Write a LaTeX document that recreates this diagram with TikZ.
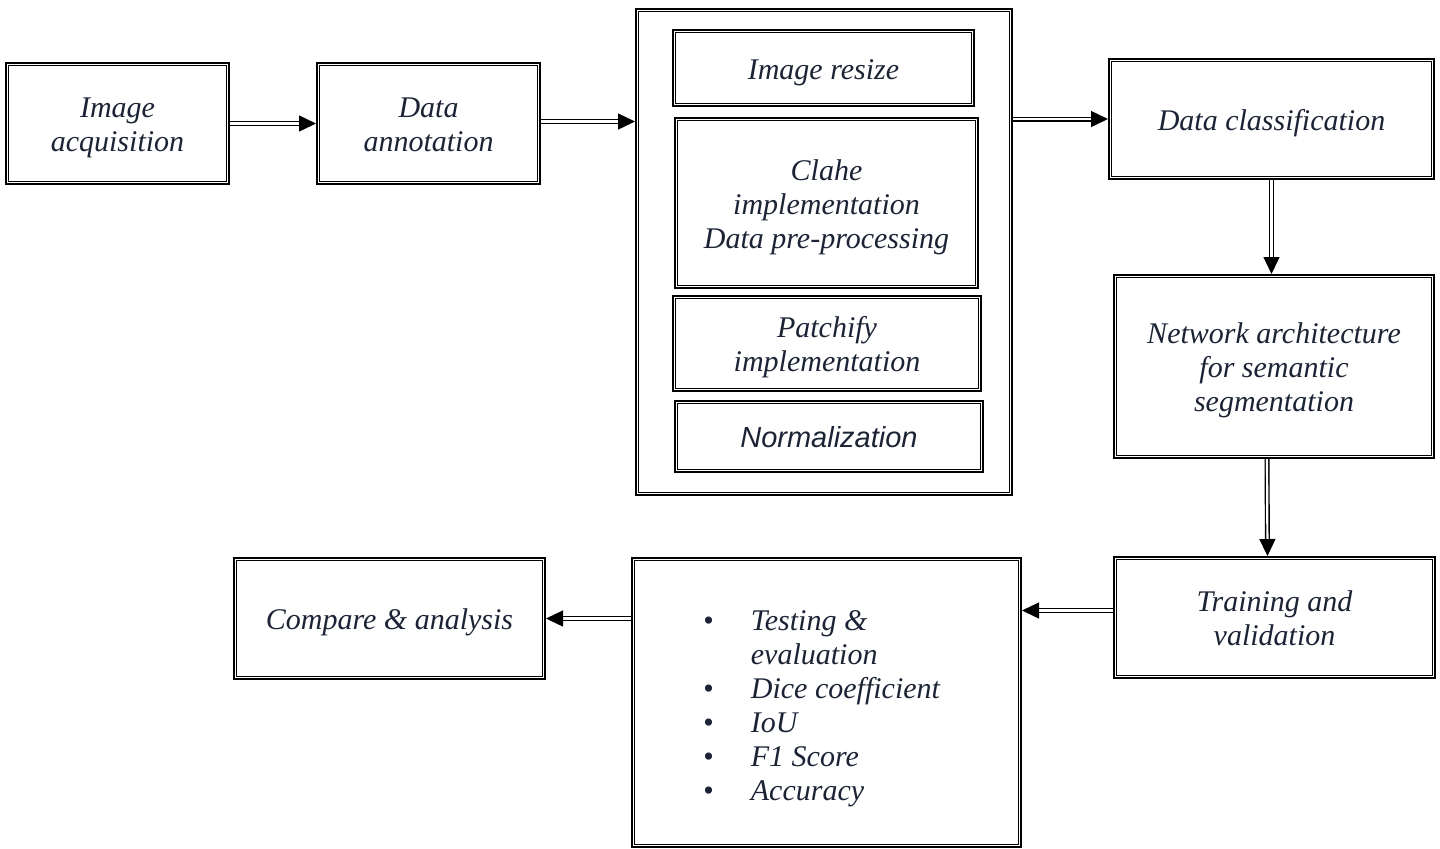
\documentclass[tikz,border=0pt]{standalone}
\usepackage{fontspec}
\setmainfont{Liberation Serif}
\newfontfamily\arialfont{Liberation Sans}
\usetikzlibrary{arrows.meta,calc}
\definecolor{txt}{HTML}{1B2335}
\tikzset{
  box/.style={draw, line width=1pt, inner sep=0pt,
    font=\fontsize{15}{17}\selectfont\itshape, text=txt},
  innerline/.style={draw, line width=0.5pt},
  conn/.style={double, double distance=1.1pt, line width=0.7pt,
    -{Triangle[length=8.5pt,width=8pt]}}
}
\newcommand{\dbox}[6]{%
  \pgfmathsetmacro{\bw}{(#4-#2)*0.5}%
  \pgfmathsetmacro{\bh}{(#5-#3)*0.5}%
  \pgfmathsetmacro{\bx}{(#2+#4)/2}%
  \pgfmathsetmacro{\by}{(#3+#5)/2}%
  \node[box, minimum width=\bw pt, minimum height=\bh pt] (#1) at (\bx,\by)
    {\raisebox{-2.2pt}[\height][\depth]{\begin{tabular}{@{}c@{}}#6\end{tabular}}};
  \draw[innerline] ($(#1.north west)+(3.5,3.5)$) rectangle ($(#1.south east)+(-3.5,-3.5)$);}
\begin{document}
\begin{tikzpicture}[x=0.5pt, y=-0.5pt]
\useasboundingbox (0,0) rectangle (1440,848);
% top row
\dbox{acq}{6}{63}{229}{184}{Image\\acquisition}
\dbox{ann}{317}{63}{540}{184}{Data\\annotation}
\dbox{pre}{636}{9}{1012}{495}{}
\dbox{res}{673}{30}{974}{106}{Image resize}
\dbox{clahe}{675}{118}{978}{288}{Clahe\\implementation\\Data pre-processing}
\dbox{patch}{673}{296}{981}{391}{Patchify\\implementation}
\dbox{norm}{675}{401}{983}{472}{{\arialfont\fontsize{14.5}{17}\selectfont\itshape Normalization}}
\dbox{cls}{1109}{59}{1434}{179}{Data classification}
\dbox{net}{1114}{275}{1434}{458}{Network architecture\\for semantic\\segmentation}
\dbox{train}{1114}{557}{1435}{678}{Training and\\validation}
\dbox{test}{632}{558}{1021}{847}{}
\dbox{cmp}{234}{558}{545}{679}{Compare \& analysis}
\node[anchor=west, inner sep=0pt, text=txt, font=\fontsize{15}{17}\selectfont\itshape] (list) at (703,709)
  {\begin{tabular}{@{}l@{\hspace{18.5pt}}l@{}}
   {\upshape\textbullet} & Testing \&\\
    & evaluation\\
   {\upshape\textbullet} & Dice coefficient\\
   {\upshape\textbullet} & IoU\\
   {\upshape\textbullet} & F1 Score\\
   {\upshape\textbullet} & Accuracy
   \end{tabular}};
% connectors
\draw[conn] (acq.east) -- (ann.west);
\draw[conn] ($(ann.east)+(0,-2)$) -- ($(ann.east -| pre.west)+(0,-2)$);
\draw[conn] (pre.east |- cls.west) -- (cls.west);
\draw[conn] (cls.south) -- (cls.south |- net.north);
\draw[conn] ($(net.south)+(-7,0)$) -- ($(train.north)+(-7,0)$);
\draw[conn] ($(train.west)+(0,-7)$) -- ($(test.east |- train.west)+(0,-7)$);
\draw[conn] (test.west |- cmp.east) -- (cmp.east);
\end{tikzpicture}
\end{document}
